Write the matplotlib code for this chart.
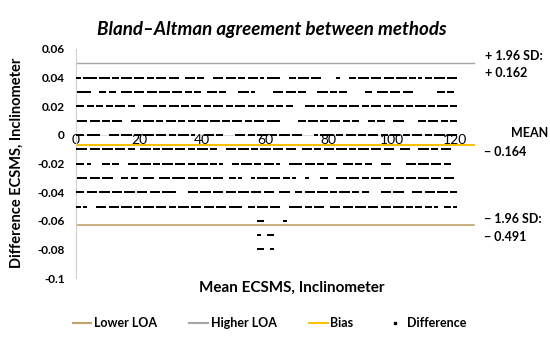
import matplotlib
matplotlib.use("Agg")
import matplotlib.pyplot as plt
from matplotlib.lines import Line2D

plt.rcParams['font.family'] = ['Lato', 'DejaVu Sans']

# difference levels and which mean values (x = 0..120) carry a point
levels = [0.04, 0.03, 0.02, 0.01, 0.0, -0.01, -0.02, -0.03, -0.04, -0.05]
patterns = [
    "1101111011" "1011011101" "1101101110" "1110011101" "1000111011" "1011011101"
    "0111100011" "0111011100" "0001000110" "1110111011" "1011101101" "0110111011" "1",
    "0111100011" "0110011101" "1101110111" "0111011011" "0011101100" "0011101000"
    "0001110111" "0110000111" "0110110000" "0011001110" "1110111000" "0000011011" "0",
    "1110110110" "1101110110" "0011110110" "1110110111" "0110111011" "0111011011"
    "0110110110" "0001110110" "1110110111" "0110111011" "0111011011" "1011011101" "1",
    "0111011101" "1011100011" "1011101101" "1101101101" "1101110110" "1110110111"
    "0111100000" "0110111011" "0111011011" "0001101100" "0111000001" "1011101101" "1",
    "1110111100" "0111011101" "1011101110" "1101110100" "0111011000" "0111011011"
    "1011011101" "1100001011" "1101101110" "1101110110" "1110110111" "0110111011" "1",
    "1111011101" "1101110110" "0111011011" "1011101101" "1101100011" "1011101101"
    "1101110111" "0011101101" "1101110110" "1110111011" "1001110001" "1101101110" "0",
    "1110100001" "1011000111" "0111011011" "1011101101" "1101101000" "1101110110"
    "1110100011" "1101110110" "1110011101" "1011000111" "0000011101" "1101110110" "0",
    "0111011101" "1100011011" "0011100111" "0111101110" "1110111001" "1010001011"
    "1011101101" "0001000011" "0001110111" "0110111011" "1011011101" "1101110111" "0",
    "1110111011" "1011101110" "1110111011" "1100001110" "1110111011" "1011101110"
    "1110011100" "1101110111" "0110111011" "0110000111" "0111000111" "0111011101" "1",
    "1101000111" "0111011101" "1011101110" "1101110111" "0111011101" "1110011011"
    "1011100011" "1101101110" "0111011101" "1101110111" "0111011011" "0110100110" "1",
]
# the few points below the main cloud
low_x = [58, 59, 66, 58, 61, 62, 58, 59, 62]
low_y = [-0.06, -0.06, -0.06, -0.07, -0.07, -0.07, -0.08, -0.08, -0.08]

higher_loa = 0.05
bias = -0.007
lower_loa = -0.063
line_x = [0, 126]

x_ticks = [0, 20, 40, 60, 80, 100, 120]
y_ticks = [0.06, 0.04, 0.02, 0, -0.02, -0.04, -0.06, -0.08, -0.1]
y_labels = ["0.06", "0.04", "0.02", "0", "-0.02", "-0.04", "-0.06", "-0.08", "-0.1"]

diff_x = []
diff_y = []
for lev, pat in zip(levels, patterns):
    for i, c in enumerate(pat):
        if c == "1":
            diff_x.append(i)
            diff_y.append(lev)
diff_x += low_x
diff_y += low_y

c_low = "#c4a26e"
c_high = "#a6a6a6"
c_bias = "#ffc000"

# small flat block, like the spreadsheet marker
dash = [(-1, -0.75), (1, -0.75), (1, 0.75), (-1, 0.75), (-1, -0.75)]

fig = plt.figure(figsize=(5.5, 3.4), dpi=100)
ax = fig.add_axes([0.138, 0.182, 0.73, 0.674])

ax.plot(line_x, [lower_loa, lower_loa], color=c_low, lw=1.2)
ax.plot(line_x, [higher_loa, higher_loa], color=c_high, lw=1.0)
ax.plot(line_x, [bias, bias], color=c_bias, lw=1.5)
ax.plot(diff_x, diff_y, ls="none", marker=dash, ms=2.4, mew=0,
        color="black", zorder=4)

ax.set_xlim(0, 127)
ax.set_ylim(-0.1, 0.06)
ax.set_yticks(y_ticks)
ax.set_yticklabels(y_labels, fontsize=8.5, fontweight="bold")
ax.set_xticks(x_ticks)
ax.set_xticklabels([str(t) for t in x_ticks], fontsize=5, color="#8c8c8c")
ax.tick_params(axis="x", length=0, pad=-1)
ax.tick_params(axis="y", length=0, pad=8)

ax.spines["bottom"].set_position(("data", 0))
ax.spines["bottom"].set_bounds(0, 120)
ax.spines["bottom"].set_color("#d9d9d9")
ax.spines["bottom"].set_linewidth(0.6)
ax.spines["bottom"].set_zorder(1)
ax.spines["left"].set_color("#d0d0d0")
ax.spines["top"].set_visible(False)
ax.spines["right"].set_visible(False)

fig.text(0.495, 0.912, "Bland\u2013Altman agreement between methods", ha="center",
         va="center", fontsize=13.5, fontweight="bold", fontstyle="italic")
fig.text(0.03, 0.52, "Difference ECSMS, Inclinometer", rotation=90, ha="center",
         va="center", fontsize=10.5, fontweight="bold")
fig.text(0.53, 0.153, "Mean ECSMS, Inclinometer", ha="center", va="center",
         fontsize=11, fontweight="bold")

right_txt = [(0.882, 0.835, "+ 1.96 SD:"), (0.882, 0.785, "+ 0.162"),
             (0.93, 0.608, "MEAN"), (0.88, 0.553, "\u2212 0.164"),
             (0.88, 0.356, "\u2212 1.96 SD:"), (0.88, 0.303, "\u2212 0.491")]
for tx, ty, s in right_txt:
    fig.text(tx, ty, s, ha="left", va="center", fontsize=9, fontweight="bold")

handles = [Line2D([], [], color=c_low, lw=1.5),
           Line2D([], [], color=c_high, lw=1.5),
           Line2D([], [], color=c_bias, lw=1.5),
           Line2D([], [], ls="none", marker="s", ms=2, color="black")]
fig.legend(handles, ["Lower LOA", "Higher LOA", "Bias", "Difference"],
           loc="center", bbox_to_anchor=(0.49, 0.05), ncol=4, frameon=False,
           prop={"size": 9, "weight": "bold"}, handlelength=1.5,
           handletextpad=0.2, columnspacing=2.6)

fig.savefig("out.png", dpi=100)
